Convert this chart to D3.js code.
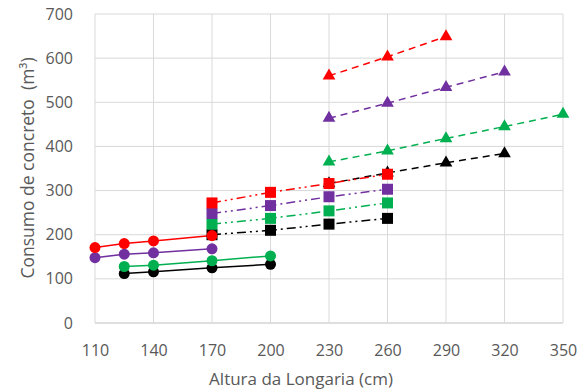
<!DOCTYPE html>
<html lang="pt">
<head>
<meta charset="UTF-8">
<title>Consumo de concreto</title>
<script src="https://d3js.org/d3.v7.min.js"></script>
<style>
  body { margin: 0; background: #fff; }
  svg { display: block; font-family: "Open Sans", "Liberation Sans", sans-serif; }
</style>
</head>
<body>
<div id="chart"></div>
<script>
// tick values
const xTicks = [110, 140, 170, 200, 230, 260, 290, 320, 350];
const yTicks = [0, 100, 200, 300, 400, 500, 600, 700];

// circle series (solid)
const redCircle    = [[110, 171], [125, 180], [140, 186], [170, 198]];
const purpleCircle = [[110, 148], [125, 156], [140, 159], [170, 168]];
const greenCircle  = [[125, 128], [140, 131], [170, 141], [200, 152]];
const blackCircle  = [[125, 112], [140, 116], [170, 125], [200, 133]];

// square series (dash-dot)
const redSquare    = [[170, 272], [200, 296], [230, 316], [260, 337]];
const purpleSquare = [[170, 248], [200, 266], [230, 286], [260, 303]];
const greenSquare  = [[170, 224], [200, 237], [230, 254], [260, 272]];
const blackSquare  = [[170, 200], [200, 210], [230, 224], [260, 237]];

// triangle series (dashed)
const redTri    = [[230, 560], [260, 603], [290, 649]];
const purpleTri = [[230, 464], [260, 498], [290, 534], [320, 569]];
const greenTri  = [[230, 365], [260, 390], [290, 418], [320, 445], [350, 473]];
const blackTri  = [[230, 316], [260, 340], [290, 363], [320, 384]];

const RED = "#ff0000", PURPLE = "#7030a0", GREEN = "#00b050", BLACK = "#000000";

const series = [
  { data: blackTri,  color: BLACK,  shape: "tri" },
  { data: greenTri,  color: GREEN,  shape: "tri" },
  { data: purpleTri, color: PURPLE, shape: "tri" },
  { data: redTri,    color: RED,    shape: "tri" },
  { data: blackSquare,  color: BLACK,  shape: "sq" },
  { data: greenSquare,  color: GREEN,  shape: "sq" },
  { data: purpleSquare, color: PURPLE, shape: "sq" },
  { data: redSquare,    color: RED,    shape: "sq" },
  { data: blackCircle,  color: BLACK,  shape: "circ" },
  { data: greenCircle,  color: GREEN,  shape: "circ" },
  { data: purpleCircle, color: PURPLE, shape: "circ" },
  { data: redCircle,    color: RED,    shape: "circ" }
];

const W = 587, H = 392;
const margin = { left: 95, right: 24, top: 14, bottom: 69 };

const svg = d3.select("#chart").append("svg")
  .attr("width", W).attr("height", H);

const x = d3.scaleLinear().domain([110, 350]).range([margin.left, W - margin.right]);
const y = d3.scaleLinear().domain([0, 700]).range([H - margin.bottom, margin.top]);

// grid
svg.append("g").selectAll("line.h").data(yTicks).join("line")
  .attr("x1", margin.left).attr("x2", W - margin.right)
  .attr("y1", d => y(d)).attr("y2", d => y(d))
  .attr("stroke", d => d === 0 ? "#bfbfbf" : "#d9d9d9").attr("stroke-width", 1);
svg.append("g").selectAll("line.v").data(xTicks).join("line")
  .attr("x1", d => x(d)).attr("x2", d => x(d))
  .attr("y1", margin.top).attr("y2", y(0))
  .attr("stroke", "#d9d9d9").attr("stroke-width", 1);

// axes (labels only)
const yAxis = svg.append("g").attr("transform", `translate(${margin.left},0)`)
  .call(d3.axisLeft(y).tickValues(yTicks).tickSize(0).tickPadding(22));
const xAxis = svg.append("g").attr("transform", `translate(0,${y(0)})`)
  .call(d3.axisBottom(x).tickValues(xTicks).tickSize(0).tickPadding(22));
[yAxis, xAxis].forEach(a => {
  a.select(".domain").remove();
  a.selectAll("text").attr("fill", "#595959").style("font-size", "16px")
    .style("font-family", "'Open Sans', sans-serif");
});

// titles
svg.append("text")
  .attr("x", 301).attr("y", 385)
  .attr("text-anchor", "middle").attr("fill", "#595959")
  .style("font-size", "17px")
  .text("Altura da Longaria (cm)");
svg.append("text")
  .attr("transform", "translate(34,168) rotate(-90)")
  .attr("text-anchor", "middle").attr("fill", "#595959")
  .attr("xml:space", "preserve")
  .style("font-size", "17.5px").style("white-space", "pre")
  .text("Consumo de concreto  (m³)");

const line = d3.line().x(d => x(d[0])).y(d => y(d[1]));
const dashes = { circ: null, sq: "9,4,2,4,2,4", tri: "7,5" };

series.forEach(s => {
  svg.append("path").datum(s.data)
    .attr("d", line).attr("fill", "none")
    .attr("stroke", s.color).attr("stroke-width", 1.5)
    .attr("stroke-dasharray", dashes[s.shape]);
});

series.forEach(s => {
  const g = svg.append("g").attr("fill", s.color);
  if (s.shape === "circ") {
    g.selectAll("circle").data(s.data).join("circle")
      .attr("cx", d => x(d[0])).attr("cy", d => y(d[1])).attr("r", 5.5);
  } else if (s.shape === "sq") {
    g.selectAll("rect").data(s.data).join("rect")
      .attr("x", d => x(d[0]) - 5.5).attr("y", d => y(d[1]) - 5.5)
      .attr("width", 11).attr("height", 11);
  } else {
    const tri = d3.symbol().type(d3.symbolTriangle).size(70);
    g.selectAll("path").data(s.data).join("path")
      .attr("d", tri)
      .attr("transform", d => `translate(${x(d[0])},${y(d[1])})`);
  }
});
</script>
</body>
</html>
